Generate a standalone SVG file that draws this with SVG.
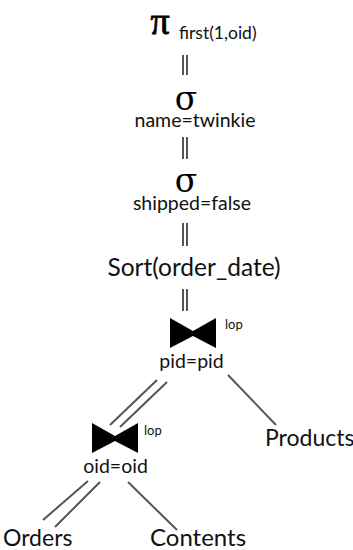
<svg xmlns="http://www.w3.org/2000/svg" width="353" height="550" viewBox="0 0 353 550">
  <style>
    .lbl { font-family: Lato, "Open Sans", sans-serif; fill: #111; }
    .big { font-size: 23px; }
    .mid { font-size: 19.5px; }
    .sub { font-size: 17.5px; }
    .tiny { font-size: 13px; }
    .greek { font-family: "DejaVu Serif", "Liberation Serif", serif; fill: #000; }
    .edge { stroke: #555; stroke-width: 2; fill: none; }
    .bowtie { fill: #000; }
  </style>
  <defs>
    <polygon id="bowtie" points="0,0 23,13 46,0 46,30 23,18 0,30"/>
  </defs>

  <!-- projection -->
  <g id="project">
    <text x="160" y="34" font-family="'Liberation Serif', serif" font-size="38" stroke="#000" stroke-width="0.8" text-anchor="middle">π</text>
    <text class="lbl sub" x="179" y="39">first(1,oid)</text>
  </g>

  <!-- selections -->
  <g id="select-name">
    <text class="greek" x="186" y="110" font-size="33" text-anchor="middle">σ</text>
    <text class="lbl mid" x="195" y="127" text-anchor="middle">name=twinkie</text>
  </g>
  <g id="select-shipped">
    <text class="greek" x="186" y="192" font-size="33" text-anchor="middle">σ</text>
    <text class="lbl mid" x="192" y="210" text-anchor="middle">shipped=false</text>
  </g>

  <!-- sort -->
  <g id="sort">
    <text class="lbl" x="194" y="276" font-size="24.5" text-anchor="middle">Sort(order_date)</text>
  </g>

  <!-- upper join -->
  <g id="join-pid">
    <use href="#bowtie" class="bowtie" x="170" y="318"/>
    <text class="lbl tiny" x="225" y="329">lop</text>
    <text class="lbl mid" x="191.5" y="368" text-anchor="middle">pid=pid</text>
  </g>

  <!-- lower join -->
  <g id="join-oid">
    <use href="#bowtie" class="bowtie" x="92" y="423"/>
    <text class="lbl tiny" x="144" y="435">lop</text>
    <text class="lbl mid" x="115.5" y="473" text-anchor="middle">oid=oid</text>
  </g>

  <!-- base relations -->
  <g id="products">
    <text class="lbl big" x="265" y="446">Products</text>
  </g>
  <g id="orders">
    <text class="lbl big" x="3" y="546">Orders</text>
  </g>
  <g id="contents">
    <text class="lbl" x="150" y="546" font-size="24">Contents</text>
  </g>

  <!-- edges: double lines mark pipelined inputs -->
  <g id="edges" class="edge">
    <path d="M183,55 V75 M187,55 V75"/>
    <path d="M183,137 V159 M187,137 V159"/>
    <path d="M183,223 V246 M187,223 V246"/>
    <path d="M183,289 V311 M187,289 V311"/>
    <path d="M157,380 L110,425 M167,382 L120,427"/>
    <path d="M228,375 L276,425"/>
    <path d="M88,481 L43,520 M100,482 L55,527"/>
    <path d="M128,482 L177,530"/>
  </g>
</svg>
